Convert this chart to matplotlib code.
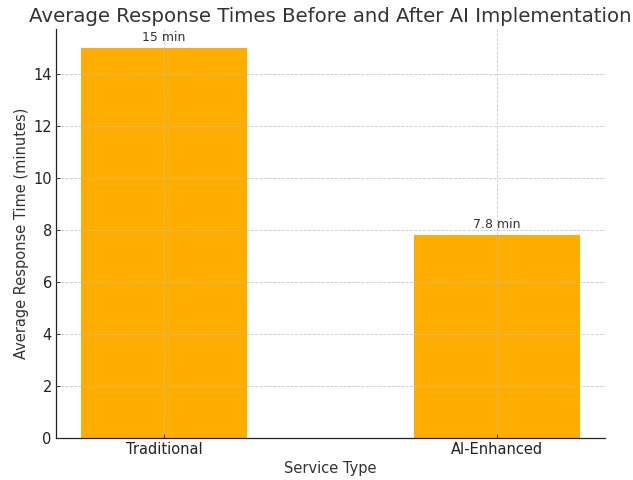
import matplotlib
matplotlib.use("Agg")
import matplotlib.pyplot as plt

service_types = ["Traditional", "AI-Enhanced"]
response_minutes = [15, 7.8]
value_labels = ["15 min", "7.8 min"]

plt.rcParams["text.color"] = "#333333"
plt.rcParams["axes.labelcolor"] = "#333333"
plt.rcParams["xtick.color"] = "#333333"
plt.rcParams["ytick.color"] = "#333333"
plt.rcParams["xtick.labelcolor"] = "#222222"
plt.rcParams["ytick.labelcolor"] = "#222222"

fig, ax = plt.subplots(figsize=(6.33, 4.8), dpi=100)
fig.subplots_adjust(left=0.0885, right=0.956, top=0.94, bottom=0.0875)

bars = ax.bar(service_types, response_minutes, width=0.5, color="#FFAE00")
for bar, label in zip(bars, value_labels):
    ax.text(bar.get_x() + bar.get_width() / 2, bar.get_height() + 0.15, label,
            ha="center", va="bottom", fontsize=9, color="#333333")

ax.set_title("Average Response Times Before and After AI Implementation",
             fontsize=14.2, color="#333333", pad=5)
ax.set_xlabel("Service Type", fontsize=10.5, labelpad=3)
ax.set_ylabel("Average Response Time (minutes)", fontsize=10.5, labelpad=3)
ax.tick_params(labelsize=10.5, length=3, width=0.7, direction="in", pad=3)
ax.grid(True, linestyle="--", color="#bbbbbb", linewidth=0.6, alpha=0.8)
ax.set_axisbelow(False)
ax.spines["top"].set_visible(False)
ax.spines["right"].set_visible(False)
for side in ("left", "bottom"):
    ax.spines[side].set_linewidth(0.9)
    ax.spines[side].set_color("#222222")

fig.savefig("out.png", dpi=100)
